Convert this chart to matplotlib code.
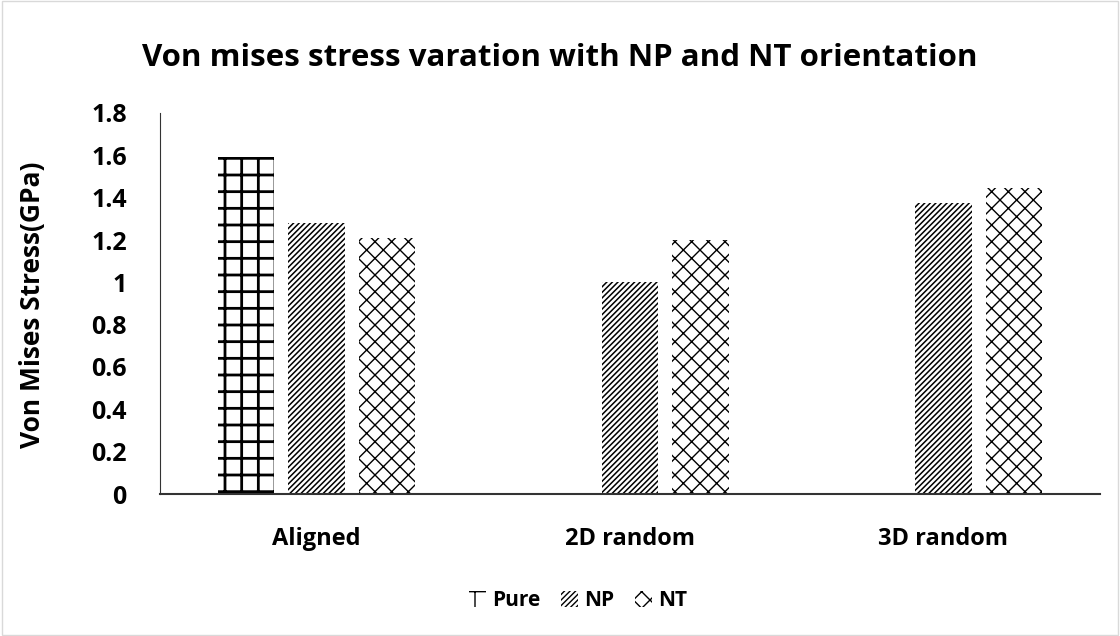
import matplotlib.pyplot as plt
import numpy as np

categories = ['Aligned', '2D random', '3D random']
pure = [1.59, 0, 0]
np_vals = [1.28, 1.0, 1.375]
nt_vals = [1.21, 1.2, 1.445]

plt.rcParams['font.family'] = ['Open Sans', 'DejaVu Sans']
plt.rcParams['font.weight'] = 'bold'

fig = plt.figure(figsize=(11.2, 6.36), dpi=100)
ax = fig.add_axes([160 / 1120, 1 - 494 / 636, 940 / 1120, 381 / 636])

x = np.arange(len(categories))
w = 0.18
step = 0.225
with plt.rc_context({'hatch.linewidth': 2.0}):
    ax.bar(x - step, pure, w, color='white', edgecolor='black', hatch='+', linewidth=0, label='Pure')
with plt.rc_context({'hatch.linewidth': 1.1}):
    ax.bar(x, np_vals, w, color='white', edgecolor='black', hatch='//////', linewidth=0, label='NP')
with plt.rc_context({'hatch.linewidth': 1.0}):
    ax.bar(x + step, nt_vals, w, color='white', edgecolor='black', hatch='xx', linewidth=0, label='NT')

ax.set_xlim(-0.5, 2.5)
ax.set_ylim(0, 1.8)
ax.set_yticks(np.arange(0, 1.81, 0.2))
ax.set_yticklabels(['0', '0.2', '0.4', '0.6', '0.8', '1', '1.2', '1.4', '1.6', '1.8'])
ax.set_xticks(x)
ax.set_xticklabels(categories)
ax.tick_params(axis='both', length=0, labelsize=17)
ax.tick_params(axis='y', labelsize=18, pad=24)
ax.tick_params(axis='x', pad=24)
for s in ['top', 'right']:
    ax.spines[s].set_visible(False)
ax.spines['left'].set_color('#333333')
ax.spines['bottom'].set_color('#333333')
ax.spines['bottom'].set_linewidth(1.5)

ax.set_ylabel('Von Mises Stress(GPa)', fontsize=19, fontweight='bold')
ax.yaxis.set_label_coords((46 - 160) / 940, 0.496)
fig.text(0.5, 1 - 58 / 636, 'Von mises stress varation with NP and NT orientation',
         ha='center', va='center', fontsize=22.5, fontweight='bold')

fig.legend(loc='center', bbox_to_anchor=(578 / 1120, 1 - 601 / 636), ncol=3, frameon=False,
           fontsize=15, handlelength=0.8, handleheight=0.8, columnspacing=1.0, handletextpad=0.3)

fig.patches.append(plt.Rectangle((0.002, 0.002), 0.996, 0.996, transform=fig.transFigure,
                                 fill=False, edgecolor='#d9d9d9', linewidth=1))

fig.savefig('out.png', dpi=100)
